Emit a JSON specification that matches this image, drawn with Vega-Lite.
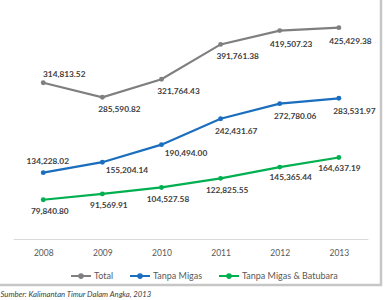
{
  "$schema": "https://vega.github.io/schema/vega-lite/v6.json",
  "autosize": "none",
  "width": 385,
  "height": 289,
  "padding": {"left": -4, "top": -4, "right": 11, "bottom": 15},
  "background": "#ffffff",
  "title": {
    "text": "Provinsi Kalimantan Timur Tahun 2008-2013 (Milyar Rupiah)",
    "orient": "top",
    "anchor": "middle",
    "offset": -7.5,
    "baseline": "alphabetic",
    "font": "Lato",
    "fontSize": 10.5,
    "fontWeight": "bold",
    "color": "#595959"
  },
  "datasets": {
    "pdrb": [
      {"year": 2008, "series": "Total", "value": 314813.52},
      {"year": 2009, "series": "Total", "value": 285590.82},
      {"year": 2010, "series": "Total", "value": 321764.43},
      {"year": 2011, "series": "Total", "value": 391761.38},
      {"year": 2012, "series": "Total", "value": 419507.23},
      {"year": 2013, "series": "Total", "value": 425429.38},
      {"year": 2008, "series": "Tanpa Migas", "value": 134228.02},
      {"year": 2009, "series": "Tanpa Migas", "value": 155204.14},
      {"year": 2010, "series": "Tanpa Migas", "value": 190494.00},
      {"year": 2011, "series": "Tanpa Migas", "value": 242431.67},
      {"year": 2012, "series": "Tanpa Migas", "value": 272780.06},
      {"year": 2013, "series": "Tanpa Migas", "value": 283531.97},
      {"year": 2008, "series": "Tanpa Migas & Batubara", "value": 79840.80},
      {"year": 2009, "series": "Tanpa Migas & Batubara", "value": 91569.91},
      {"year": 2010, "series": "Tanpa Migas & Batubara", "value": 104527.58},
      {"year": 2011, "series": "Tanpa Migas & Batubara", "value": 122825.55},
      {"year": 2012, "series": "Tanpa Migas & Batubara", "value": 145365.44},
      {"year": 2013, "series": "Tanpa Migas & Batubara", "value": 164637.19}
    ],
    "baseline": [
      {"start": 2007.5, "end": 2013.5, "value": 0}
    ]
  },
  "encoding": {
    "x": {
      "field": "year",
      "type": "quantitative",
      "scale": {"domain": [2007.201, 2013.713], "nice": false, "zero": false},
      "axis": {
        "values": [2008, 2009, 2010, 2011, 2012, 2013],
        "format": "d",
        "domain": false,
        "ticks": false,
        "grid": false,
        "offset": -45.5,
        "labelPadding": 8.5,
        "labelFont": "Lato",
        "labelFontSize": 8.5,
        "labelColor": "#595959",
        "title": "Sumber: Kalimantan Timur Dalam Angka, 2013",
        "titleFont": "Lato",
        "titleFontSize": 7.7,
        "titleFontStyle": "italic",
        "titleFontWeight": "normal",
        "titleColor": "#404040",
        "titleAnchor": "start",
        "titleAlign": "left",
        "titleX": 4,
        "titlePadding": 33.5
      }
    },
    "y": {
      "field": "value",
      "type": "quantitative",
      "scale": {"domain": [-91400, 489000], "nice": false, "zero": false},
      "axis": null
    }
  },
  "layer": [
    {
      "data": {"name": "baseline"},
      "mark": {"type": "rule", "color": "#d9d9d9", "strokeWidth": 1},
      "encoding": {
        "x": {"field": "start", "type": "quantitative"},
        "x2": {"field": "end"},
        "y": {"field": "value", "type": "quantitative"}
      }
    },
    {
      "data": {"name": "pdrb"},
      "mark": {"type": "line", "strokeWidth": 2.2, "point": {"filled": true, "size": 24}},
      "encoding": {
        "color": {
          "field": "series",
          "type": "nominal",
          "scale": {
            "domain": ["Total", "Tanpa Migas", "Tanpa Migas & Batubara"],
            "range": ["#7f7f7f", "#1a6ebd", "#00b050"]
          },
          "legend": {
            "orient": "none",
            "legendX": 74,
            "legendY": 269,
            "direction": "horizontal",
            "title": null,
            "labelFont": "Lato",
            "labelFontSize": 9,
            "labelColor": "#595959",
            "symbolType": "M-1,0H1M-0.18,0a0.18,0.18 0 1,0 0.36,0a0.18,0.18 0 1,0 -0.36,0",
            "symbolStrokeWidth": 2,
            "symbolSize": 400,
            "columnPadding": 12,
            "labelOffset": 2
          }
        }
      }
    },
    {
      "data": {"name": "pdrb"},
      "transform": [{"filter": "datum.series == 'Total' && datum.year == 2008"}],
      "mark": {"type": "text", "dx": 21, "dy": -7.5, "font": "Lato", "fontSize": 8.3, "fontWeight": "bold", "color": "#404040"},
      "encoding": {"text": {"field": "value", "type": "quantitative", "format": ",.2f"}}
    },
    {
      "data": {"name": "pdrb"},
      "transform": [{"filter": "datum.series == 'Total' && datum.year >= 2009 && datum.year <= 2011"}],
      "mark": {"type": "text", "dx": 17, "dy": 12.5, "font": "Lato", "fontSize": 8.3, "fontWeight": "bold", "color": "#404040"},
      "encoding": {"text": {"field": "value", "type": "quantitative", "format": ",.2f"}}
    },
    {
      "data": {"name": "pdrb"},
      "transform": [{"filter": "datum.series == 'Total' && datum.year >= 2012"}],
      "mark": {"type": "text", "dx": 11.5, "dy": 14, "font": "Lato", "fontSize": 8.3, "fontWeight": "bold", "color": "#404040"},
      "encoding": {"text": {"field": "value", "type": "quantitative", "format": ",.2f"}}
    },
    {
      "data": {"name": "pdrb"},
      "transform": [{"filter": "datum.series == 'Tanpa Migas' && datum.year == 2008"}],
      "mark": {"type": "text", "dx": 4.5, "dy": -11, "font": "Lato", "fontSize": 8.3, "fontWeight": "bold", "color": "#404040"},
      "encoding": {"text": {"field": "value", "type": "quantitative", "format": ",.2f"}}
    },
    {
      "data": {"name": "pdrb"},
      "transform": [{"filter": "datum.series == 'Tanpa Migas' && (datum.year == 2009 || datum.year == 2010)"}],
      "mark": {"type": "text", "dx": 24.5, "dy": 9, "font": "Lato", "fontSize": 8.3, "fontWeight": "bold", "color": "#404040"},
      "encoding": {"text": {"field": "value", "type": "quantitative", "format": ",.2f"}}
    },
    {
      "data": {"name": "pdrb"},
      "transform": [{"filter": "datum.series == 'Tanpa Migas' && datum.year >= 2011"}],
      "mark": {"type": "text", "dx": 15.5, "dy": 13.3, "font": "Lato", "fontSize": 8.3, "fontWeight": "bold", "color": "#404040"},
      "encoding": {"text": {"field": "value", "type": "quantitative", "format": ",.2f"}}
    },
    {
      "data": {"name": "pdrb"},
      "transform": [{"filter": "datum.series == 'Tanpa Migas & Batubara' && datum.year <= 2011"}],
      "mark": {"type": "text", "dx": 6.5, "dy": 12.5, "font": "Lato", "fontSize": 8.3, "fontWeight": "bold", "color": "#404040"},
      "encoding": {"text": {"field": "value", "type": "quantitative", "format": ",.2f"}}
    },
    {
      "data": {"name": "pdrb"},
      "transform": [{"filter": "datum.series == 'Tanpa Migas & Batubara' && datum.year == 2012"}],
      "mark": {"type": "text", "dx": 11, "dy": 11, "font": "Lato", "fontSize": 8.3, "fontWeight": "bold", "color": "#404040"},
      "encoding": {"text": {"field": "value", "type": "quantitative", "format": ",.2f"}}
    },
    {
      "data": {"name": "pdrb"},
      "transform": [{"filter": "datum.series == 'Tanpa Migas & Batubara' && datum.year == 2013"}],
      "mark": {"type": "text", "dx": 0.5, "dy": 11.7, "font": "Lato", "fontSize": 8.3, "fontWeight": "bold", "color": "#404040"},
      "encoding": {"text": {"field": "value", "type": "quantitative", "format": ",.2f"}}
    }
  ],
  "config": {
    "view": {"stroke": "#c6c6c6", "strokeWidth": 2.5}
  }
}
